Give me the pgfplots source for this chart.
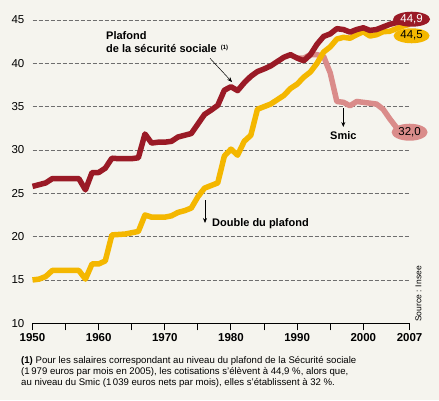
\documentclass[border=0pt]{standalone}
\usepackage{fontspec}
\setmainfont{Liberation Sans}
\usepackage{pgfplots}
\pgfplotsset{compat=1.18}
\usetikzlibrary{shapes.geometric,arrows.meta}
\definecolor{bg}{HTML}{F5F4EE}
\definecolor{cred}{HTML}{9A1A26}
\definecolor{cyel}{HTML}{F4B700}
\definecolor{cpink}{HTML}{DA8C8A}
\definecolor{cgrid}{HTML}{6E6E6E}
\begin{document}
\begin{tikzpicture}[x=1pt,y=1pt]
\useasboundingbox (0,0) rectangle (439,400);
\fill[bg] (0,0) rectangle (439,400);
\begin{axis}[
  scale only axis, width=377.1pt, height=303.3pt,
  at={(32.5pt,76.7pt)}, anchor=south west,
  xmin=1950, xmax=2007, ymin=10, ymax=45,
  clip=false,
  axis lines*=left,
  axis line style={-},
  y axis line style={draw=none},
  x axis line style={black, line width=1.1pt},
  xtick={1950,1955,...,2000,2007},
  xticklabels={1950,,1960,,1970,,1980,,1990,,2000,2007},
  xtick align=outside,
  major tick length=7pt,
  xtick style={black, line width=1pt},
  ytick={10,15,...,45},
  yticklabels={10,15,20,25,30,35,40,45},
  ytick style={draw=none},
  ymajorgrids,
  major grid style={cgrid, line width=0.9pt, dash pattern=on 4pt off 2pt},
  xticklabel style={font=\fontsize{11.5}{13}\selectfont\bfseries, inner sep=0pt, yshift=-3pt},
  yticklabel style={font=\fontsize{11.5}{13}\selectfont, anchor=east, inner sep=0pt, xshift=-8pt},
]
% Smic (below)
\addplot[cpink, line width=5.5pt, line join=round] coordinates {
(1990,40.6) (1991,40.6) (1992,41.0) (1993,41.0) (1994,40.8) (1995,38.9)
(1996,35.6) (1997,35.5) (1998,35.1) (1999,35.6) (2000,35.5) (2001,35.4)
(2002,35.3) (2003,34.7) (2004,33.6) (2005,32.6) (2006,32.0) (2007,32.0)};
% Double du plafond
\addplot[cyel, line width=5.5pt, line join=round] coordinates {
(1950,15.0) (1951,15.1) (1952,15.4) (1953,16.1) (1954,16.1) (1955,16.1)
(1956,16.1) (1957,16.1) (1958,15.1) (1959,16.85) (1960,16.85) (1961,17.2)
(1962,20.2) (1963,20.25) (1964,20.3) (1965,20.45) (1966,20.6) (1967,22.5)
(1968,22.25) (1969,22.25) (1970,22.25) (1971,22.4) (1972,22.8) (1973,23.0)
(1974,23.3) (1975,24.6) (1976,25.6) (1977,25.9) (1978,26.2) (1979,29.3)
(1980,30.1) (1981,29.4) (1982,31.0) (1983,31.7) (1984,34.7) (1985,35.0)
(1986,35.3) (1987,35.8) (1988,36.3) (1989,37.1) (1990,37.6) (1991,38.4)
(1992,39.0) (1993,40.0) (1994,41.3) (1995,41.9) (1996,42.8) (1997,43.0)
(1998,42.9) (1999,43.3) (2000,43.65) (2001,43.15) (2002,43.3) (2003,43.65)
(2004,43.7) (2005,44.0) (2006,44.3) (2007,44.5)};
% Plafond
\addplot[cred, line width=5.5pt, line join=round] coordinates {
(1950,25.8) (1951,26.0) (1952,26.2) (1953,26.7) (1954,26.7) (1955,26.7)
(1956,26.7) (1957,26.7) (1958,25.4) (1959,27.4) (1960,27.4) (1961,27.9)
(1962,29.05) (1963,29.0) (1964,29.0) (1965,29.0) (1966,29.1) (1967,31.85)
(1968,30.8) (1969,30.9) (1970,30.9) (1971,31.0) (1972,31.5) (1973,31.7)
(1974,31.9) (1975,33.0) (1976,34.1) (1977,34.6) (1978,35.15) (1979,36.9)
(1980,37.3) (1981,36.85) (1982,37.75) (1983,38.5) (1984,39.05) (1985,39.35)
(1986,39.7) (1987,40.2) (1988,40.7) (1989,41.0) (1990,40.6) (1991,40.3)
(1992,41.0) (1993,42.2) (1994,43.1) (1995,43.4) (1996,44.0) (1997,43.9)
(1998,43.6) (1999,43.9) (2000,44.1) (2001,43.8) (2002,43.9) (2003,44.2)
(2004,44.5) (2005,44.7) (2006,44.9) (2007,44.9)};
% end labels
\node[ellipse, fill=cred, minimum width=37pt, minimum height=15pt, inner sep=0pt,
  text=white, font=\fontsize{11.5}{13}\selectfont] at (axis cs:2007.3,45.09) {44,9};
\node[ellipse, fill=cyel, minimum width=36pt, minimum height=15pt, inner sep=0pt,
  text=black, font=\fontsize{11.5}{13}\selectfont] at (axis cs:2007.3,43.18) {44,5};
\node[ellipse, fill=cpink, minimum width=36pt, minimum height=17pt, inner sep=0pt,
  text=black, font=\fontsize{11.5}{13}\selectfont] at (axis cs:2007.0,32.05) {32,0};
\end{axis}
% annotations
\node[anchor=base west, inner sep=0pt, font=\fontsize{11}{12}\selectfont\bfseries] at (106,360.5) {Plafond};
\node[anchor=base west, inner sep=0pt, font=\fontsize{11}{12}\selectfont\bfseries] at (106,347.3) {de la sécurité sociale\hspace{4pt}\raisebox{3.5pt}{\fontsize{6}{7}\selectfont(1)}};
\draw[black, line width=0.5pt, -{Stealth[length=5pt,width=4pt]}] (210,341.7) -- (232,318);
\node[anchor=base west, inner sep=0pt, font=\fontsize{11}{12}\selectfont\bfseries] at (330,260.7) {Smic};
\draw[black, line width=0.7pt, -{Stealth[length=5pt,width=4pt]}] (343.3,291.7) -- (343.3,273);
\node[anchor=base west, inner sep=0pt, font=\fontsize{11}{12}\selectfont\bfseries] at (212,173.3) {Double du plafond};
\draw[black, line width=0.7pt, -{Stealth[length=5pt,width=4pt]}] (205,200) -- (205,177);
\node[rotate=90, inner sep=0pt, font=\fontsize{8.5}{10}\selectfont] at (418.5,106) {Source : Insee};
\node[anchor=base west, inner sep=0pt, font=\fontsize{9.6}{11}\selectfont] at (21,36.5) {\textbf{(1)} Pour les salaires correspondant au niveau du plafond de la Sécurité sociale};
\node[anchor=base west, inner sep=0pt, font=\fontsize{9.6}{11}\selectfont] at (21,25.5) {(1\,979 euros par mois en 2005), les cotisations s’élèvent à 44,9 \%, alors que,};
\node[anchor=base west, inner sep=0pt, font=\fontsize{9.6}{11}\selectfont] at (21,15) {au niveau du Smic (1\,039 euros nets par mois), elles s’établissent à 32 \%.};
\end{tikzpicture}
\end{document}
